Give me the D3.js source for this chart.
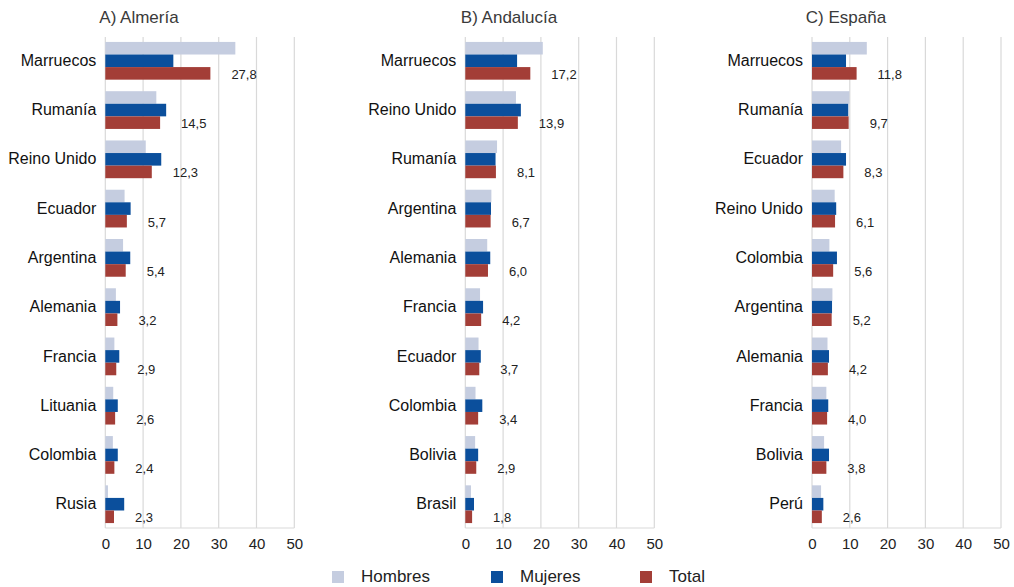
<!DOCTYPE html>
<html>
<head>
<meta charset="utf-8">
<script src="https://cdn.jsdelivr.net/npm/d3@7"></script>
<style>
  html, body { margin: 0; padding: 0; background: #ffffff; }
  svg { display: block; }
  text { font-family: "Liberation Sans", Arial, sans-serif; }
</style>
</head>
<body>
<svg id="chart" width="1014" height="587"></svg>
<script>
// Series names and colours
const seriesNames = ["Hombres", "Mujeres", "Total"];
const seriesColors = ["#c5cde0", "#0b4f9c", "#a33e37"];

// Panel titles
const panelTitles = ["A) Almería", "B) Andalucía", "C) España"];

// Axis ticks (percent)
const xTicks = [0, 10, 20, 30, 40, 50];

// A) Almería
const catsA = ["Marruecos", "Rumanía", "Reino Unido", "Ecuador", "Argentina", "Alemania", "Francia", "Lituania", "Colombia", "Rusia"];
const hombresA = [34.4, 13.5, 10.7, 5.1, 4.7, 2.8, 2.4, 2.1, 2.0, 0.7];
const mujeresA = [18.0, 16.1, 14.8, 6.7, 6.6, 3.9, 3.7, 3.3, 3.3, 5.0];
const totalA = [27.8, 14.5, 12.3, 5.7, 5.4, 3.2, 2.9, 2.6, 2.4, 2.3];

// B) Andalucía
const catsB = ["Marruecos", "Reino Unido", "Rumanía", "Argentina", "Alemania", "Francia", "Ecuador", "Colombia", "Bolivia", "Brasil"];
const hombresB = [20.5, 13.4, 8.4, 6.9, 5.8, 3.9, 3.5, 2.7, 2.6, 1.5];
const mujeresB = [13.7, 14.7, 8.0, 6.8, 6.6, 4.7, 4.1, 4.5, 3.4, 2.3];
const totalB = [17.2, 13.9, 8.1, 6.7, 6.0, 4.2, 3.7, 3.4, 2.9, 1.8];

// C) España
const catsC = ["Marruecos", "Rumanía", "Ecuador", "Reino Unido", "Colombia", "Argentina", "Alemania", "Francia", "Bolivia", "Perú"];
const hombresC = [14.5, 9.9, 7.7, 6.0, 4.6, 5.4, 4.1, 3.8, 3.2, 2.4];
const mujeresC = [9.0, 9.6, 9.0, 6.4, 6.6, 5.3, 4.5, 4.3, 4.5, 3.0];
const totalC = [11.8, 9.7, 8.3, 6.1, 5.6, 5.2, 4.2, 4.0, 3.8, 2.6];

const panelData = [
  { title: panelTitles[0], cats: catsA, series: [hombresA, mujeresA, totalA] },
  { title: panelTitles[1], cats: catsB, series: [hombresB, mujeresB, totalB] },
  { title: panelTitles[2], cats: catsC, series: [hombresC, mujeresC, totalC] }
];

const svg = d3.select("#chart");

// Layout
const plotTop = 37, plotBottom = 528;
const plotLefts = [105.3, 465.3, 812];
const plotWidth = 189;
const titleCenters = [139, 509, 846];

const fmt = v => d3.format(".1f")(v).replace(".", ",");

panelData.forEach((p, i) => {
  const x0 = plotLefts[i];
  const x = d3.scaleLinear().domain([0, 50]).range([x0, x0 + plotWidth]);
  const y = d3.scaleBand().domain(p.cats).range([plotTop, plotBottom])
    .paddingInner(0.234).paddingOuter(0.1);
  const ySub = d3.scaleBand().domain(seriesNames).range([0, y.bandwidth()]);

  const g = svg.append("g");

  // Title
  g.append("text")
    .attr("x", titleCenters[i]).attr("y", 23)
    .attr("text-anchor", "middle")
    .attr("font-size", 17)
    .attr("fill", "#3a3a3a")
    .text(p.title);

  // Vertical gridlines
  g.selectAll("line.grid").data(xTicks).join("line")
    .attr("class", "grid")
    .attr("x1", d => x(d)).attr("x2", d => x(d))
    .attr("y1", plotTop).attr("y2", plotBottom)
    .attr("stroke", "#d9d9d9").attr("stroke-width", 1.2);

  // Bottom axis line
  g.append("line")
    .attr("x1", x(0)).attr("x2", x(50))
    .attr("y1", plotBottom).attr("y2", plotBottom)
    .attr("stroke", "#d9d9d9").attr("stroke-width", 1.2);

  // Bottom axis tick labels
  const axis = d3.axisBottom(x).tickValues(xTicks).tickSize(0).tickPadding(10);
  const ax = g.append("g").attr("transform", `translate(0,${plotBottom})`).call(axis);
  ax.select(".domain").remove();
  ax.selectAll("text")
    .attr("font-size", 15)
    .attr("font-family", "Liberation Sans, Arial, sans-serif")
    .attr("fill", "#222");

  // Category labels
  const ay = d3.axisLeft(y).tickSize(0).tickPadding(9);
  const ayG = g.append("g").attr("transform", `translate(${x0},0)`).call(ay);
  ayG.select(".domain").remove();
  ayG.selectAll("text")
    .attr("font-size", 16)
    .attr("font-family", "Liberation Sans, Arial, sans-serif")
    .attr("fill", "#111");

  // Bars
  p.series.forEach((vals, s) => {
    g.selectAll(`rect.s${s}`).data(p.cats).join("rect")
      .attr("class", `s${s}`)
      .attr("x", x(0))
      .attr("y", c => y(c) + ySub(seriesNames[s]))
      .attr("width", (c, k) => x(vals[k]) - x(0))
      .attr("height", ySub.bandwidth())
      .attr("fill", seriesColors[s]);
  });

  // Total value labels
  const totals = p.series[2];
  g.selectAll("text.val").data(p.cats).join("text")
    .attr("class", "val")
    .attr("x", (c, k) => x(totals[k]) + 21)
    .attr("y", c => y(c) + ySub("Total") + ySub.bandwidth() / 2 + 1)
    .attr("dominant-baseline", "central")
    .attr("font-size", 13)
    .attr("fill", "#222")
    .text((c, k) => fmt(totals[k]));
});

// Legend
const legendX = [332, 491, 640];
const legend = svg.append("g");
seriesNames.forEach((name, s) => {
  legend.append("rect")
    .attr("x", legendX[s]).attr("y", 571)
    .attr("width", 12).attr("height", 12)
    .attr("fill", seriesColors[s]);
  legend.append("text")
    .attr("x", legendX[s] + 29).attr("y", 582)
    .attr("font-size", 17)
    .attr("fill", "#222")
    .text(name);
});
</script>
</body>
</html>
